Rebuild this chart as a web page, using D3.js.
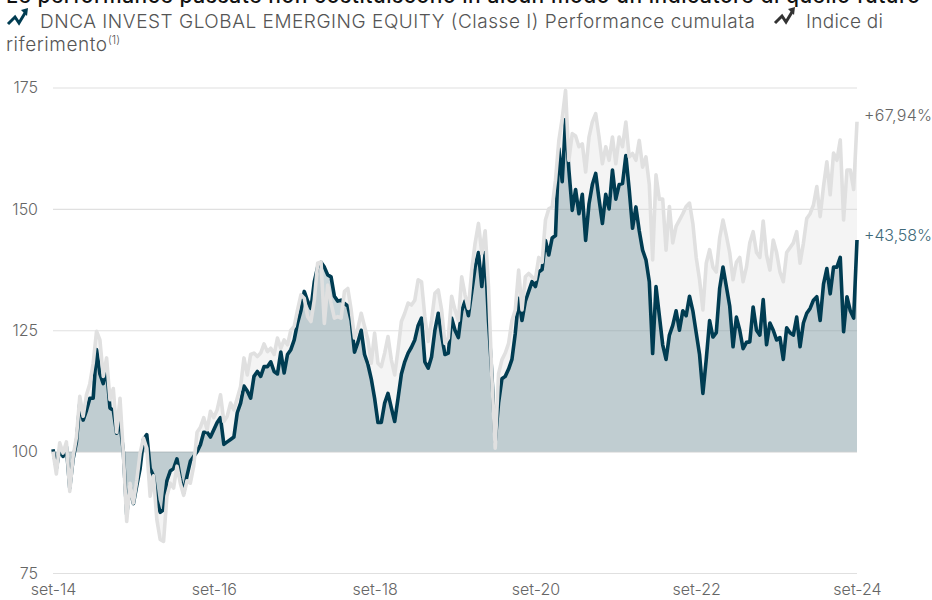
<!DOCTYPE html>
<html>
<head>
<meta charset="utf-8">
<script src="https://cdn.jsdelivr.net/npm/d3@7"></script>
<style>
body { margin: 0; background: white; overflow: hidden; }
text { font-family: Inter, "Open Sans", sans-serif; font-weight: 300; }
</style>
</head>
<body>
<div id="canvas"></div>
<script>
var width = 932;
var height = 600;

// values, one every half month from set-14
const fund = [
    100.5,96.5,100.5,99,101,92.5,98.5,102,110,106.5,
    108.5,111,111,121,116,114,117,109,108.5,103.8,
    106,100,87,93,89.3,93,96.5,102.5,103.5,96.5,
    95,90,87.5,88,94,96,96.5,98.5,94.5,91.5,
    95,98,99,100,101.4,104,104,103,104.5,106,
    107,101.5,102,102.5,103,108,110,113.5,112.5,111,
    115.5,116.5,115.5,117.5,117.5,118.5,116.5,116,120.5,116.2,
    120,121,123,126.5,129,133,131,129.5,135,138,
    139,138,136.4,136,132,131,131.2,130.5,130,127,
    120.5,122.5,125,120,118,115,111,106,106,110,
    112,109,106.2,111,116,118.5,120.3,121.5,123,126,
    127.5,118.5,117.2,119.5,125,128.5,124,120,120.3,127.5,
    125,123.5,129,131,128,133,138,141,134,141,
    127,116,102,110,115,115.5,117,119,124.4,131.6,
    127,131,133,135,134,137,137.5,143.5,140.5,144,
    144.5,162.4,155.6,168.4,158,149.7,154,149,153,143.5,
    151,155,157.3,152,147,153,150,158,152,155,
    155.2,161,154,146,150.4,145.5,141.5,139.5,135,120.2,
    134,128,122,119,124,126,129,125,129,128,
    132,129,124.5,120,112,119,127,123.6,124.5,133.6,
    138,134,130,121.6,127.7,125,121.2,122.5,122.6,129.8,
    125,124,131.3,122,126.5,125,123,123.5,119,125.5,
    124.5,124,127.7,121.6,126.5,128.5,129.5,131.2,131.9,127,
    134.5,137.7,132.5,138,138,140,124.7,131.9,129,127.5,
    143.58
];

const benchmark = [
    100,95.4,101.8,99.7,102,91.8,99,103,111.4,107.3,
    111.7,114,118.2,124.8,123,115.5,119.3,110.7,113,104,
    111,99.7,85.6,93.5,89.4,94,99.7,102.8,100.7,90.8,
    95,86,81.9,81.5,90.8,93.5,92.5,97,93.5,91,
    94,93.5,97,104,105,107,104.5,108.3,107,108.6,
    111.7,106.2,107.3,110,108.6,111,113.4,119.3,115.8,120,
    120.3,119.6,120.3,122.2,120.6,121.3,120,123.4,121.3,123,
    122,125,125.8,129.2,132.3,131.6,127.8,126.8,131.2,138.8,
    139.1,126.4,134.3,130.6,127.5,127.8,127.5,133,133.6,129.2,
    123.4,125.4,128.5,125.8,123,118.2,124.4,118.2,117.5,120.3,
    123.7,118.9,115.8,121,126.8,128.5,130.6,130.2,131.2,135.4,
    135,127.8,122.7,127,132.6,133.3,129.2,122.3,123.4,132,
    129.2,127,136,132.3,129.5,137.4,142.9,147,140.8,145.5,
    134,115.5,100.7,116,118.9,120.3,122.3,127,129.2,137.4,
    129.2,136,136.7,136,135.5,140,139,147.7,150,150.4,
    155.9,164.1,168.6,174.4,160,165.5,165,162.8,163.4,157.6,
    164.8,167.9,169.6,164.8,159.3,162.8,160,164.8,159.3,164.8,
    162.8,167.9,160.7,161.4,160,164.1,158.6,160.7,155,139.5,
    157,152,152,141.5,150.5,143,146.4,147.7,149,150.5,
    151.2,147,140,135.4,129.2,138.8,141.6,138,137,144,
    147.7,144.5,141,135.4,139,140,135,138,143,145.3,
    141,140,147.5,140.5,137.4,143.6,141,137,135,141,
    142,143,145.3,138.8,142.9,148,149,150.8,154.6,148.4,
    154.6,159.7,152.9,161.5,160,164.2,147.7,158,158,154,
    167.94
];

const yTicks = [75, 100, 125, 150, 175];
const xTicks = [0, 24, 48, 72, 96, 120];
const xLabels = ["set-14", "set-16", "set-18", "set-20", "set-22", "set-24"];
const fundLabel = "+43,58%";
const benchmarkLabel = "+67,94%";

const darkBlue = "#003c52";
const lightGrey = "#e0e0e0";
const textGrey = "#666666";

var svg = d3.select("#canvas").append("svg")
    .attr("width", width)
    .attr("height", height)
    .style("display", "block")
    .style("background-color", "white");

const xScale = d3.scaleLinear().domain([0, 120]).range([53, 857]);
const yScale = d3.scaleLinear().domain([75, 175]).range([573, 87.5]);

const fundData = fund.map((v, i) => ({ m: i / 2, v: v }));
const benchData = benchmark.map((v, i) => ({ m: i / 2, v: v }));

// axes
const yAxis = svg.append("g")
    .attr("transform", "translate(53,0)")
    .call(d3.axisLeft(yScale).tickValues(yTicks).tickSize(-804).tickPadding(15));
yAxis.select(".domain").remove();
yAxis.selectAll("line").attr("stroke", lightGrey).attr("stroke-width", 1.2);
yAxis.selectAll("text").attr("fill", textGrey).style("font-size", "16px");

const xAxis = svg.append("g")
    .attr("transform", "translate(0,573)")
    .call(d3.axisBottom(xScale).tickValues(xTicks).tickFormat((d, i) => xLabels[i]).tickSize(0).tickPadding(11));
xAxis.select(".domain").remove();
xAxis.selectAll("text").attr("fill", textGrey).style("font-size", "16px");

const area = d3.area()
    .x(d => xScale(d.m))
    .y0(yScale(100))
    .y1(d => yScale(d.v));

const line = d3.line()
    .x(d => xScale(d.m))
    .y(d => yScale(d.v));

svg.append("path").datum(benchData)
    .attr("d", area)
    .style("fill", lightGrey)
    .style("fill-opacity", 0.35);

svg.append("path").datum(fundData)
    .attr("d", area)
    .style("fill", darkBlue)
    .style("fill-opacity", 0.21);

svg.append("path").datum(fundData)
    .attr("d", line)
    .style("fill", "none")
    .style("stroke", darkBlue)
    .style("stroke-width", 3.6)
    .style("stroke-linejoin", "round");

svg.append("path").datum(benchData)
    .attr("d", line)
    .style("fill", "none")
    .style("stroke", lightGrey)
    .style("stroke-width", 3.6)
    .style("stroke-linejoin", "round");

// end labels
svg.append("text")
    .attr("x", 864).attr("y", yScale(benchmark[benchmark.length - 1]) - 0.5)
    .attr("fill", textGrey).style("font-size", "16px")
    .attr("textLength", 68)
    .text(benchmarkLabel);

svg.append("text")
    .attr("x", 864).attr("y", yScale(fund[fund.length - 1]) + 0.5)
    .attr("fill", "#3f6a7a").style("font-size", "16px")
    .attr("textLength", 68)
    .text(fundLabel);

// heading, cut by the top of the page
svg.append("text")
    .attr("x", 6).attr("y", 3)
    .attr("fill", "#111")
    .style("font-size", "21px").style("font-weight", 500)
    .attr("textLength", 914)
    .text("Le performance passate non costituiscono in alcun modo un indicatore di quello futuro");

// legend
function icon(x, y, color) {
    const g = svg.append("g").attr("transform", "translate(" + x + "," + y + ")");
    g.append("path")
        .attr("d", "M0,16 L7,9 L11,15 L17,5")
        .style("fill", "none").style("stroke", color).style("stroke-width", 3);
    g.append("path")
        .attr("d", "M13,2 L20,0 L19,8 Z")
        .style("fill", color);
}
icon(8, 8, darkBlue);
icon(775, 7, "#333333");

svg.append("text")
    .attr("x", 40).attr("y", 28)
    .attr("fill", "#555").style("font-size", "19px")
    .attr("textLength", 715)
    .text("DNCA INVEST GLOBAL EMERGING EQUITY (Classe I) Performance cumulata");

svg.append("text")
    .attr("x", 806).attr("y", 28)
    .attr("fill", "#555").style("font-size", "19px")
    .attr("textLength", 77)
    .text("Indice di");

svg.append("text")
    .attr("x", 6).attr("y", 51)
    .attr("fill", "#555").style("font-size", "19px")
    .attr("textLength", 101)
    .text("riferimento");

svg.append("text")
    .attr("x", 108).attr("y", 44)
    .attr("fill", "#555").style("font-size", "11px")
    .text("(1)");
</script>
</body>
</html>
